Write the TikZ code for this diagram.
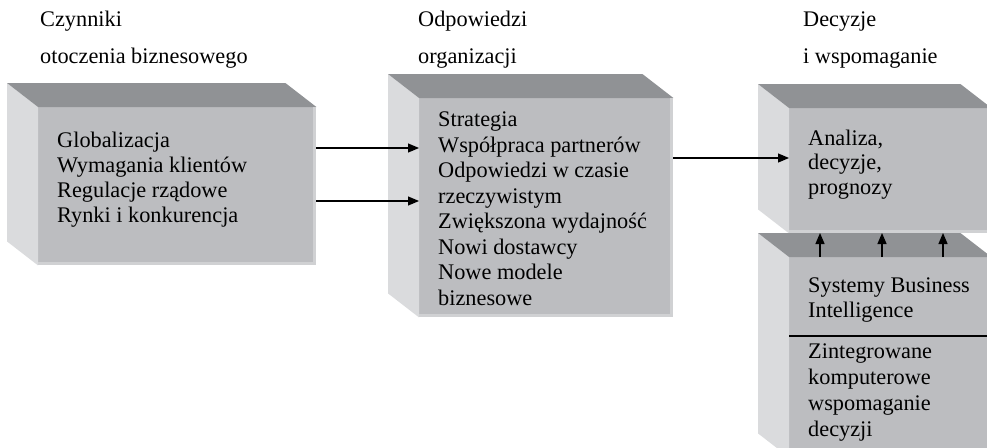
\documentclass[tikz,border=0pt]{standalone}
\usepackage{fontspec}
\setmainfont{Liberation Serif}
\usetikzlibrary{arrows.meta}

\definecolor{frontgray}{RGB}{188,189,192}
\definecolor{topgray}{RGB}{144,146,149}
\definecolor{sidegray}{RGB}{218,219,221}
\definecolor{rimgray}{RGB}{208,209,211}

% side and top faces of a box, behind its front node
\newcommand{\boxfaces}[1]{%
  \fill[sidegray] (#1.south west) -- ++(-31,-24) -- ([shift={(-31,-24)}]#1.north west) -- (#1.north west) -- cycle;
  \fill[topgray] (#1.north west) -- ++(-31,-24) -- ([shift={(-31,-24)}]#1.north east) -- (#1.north east) -- cycle;
  \fill[rimgray] ([xshift=-3pt]#1.north east) rectangle (#1.south east);
  \fill[rimgray] ([yshift=3pt]#1.south west) rectangle (#1.south east);
}

\tikzset{
  front/.style={fill=frontgray, draw=none, inner sep=0pt, anchor=north west},
  txt/.style={anchor=base west, inner sep=0pt, align=left, font=\fontsize{22.3}{25}\selectfont},
  arr/.style={line width=1.2pt, -{Triangle[length=11pt, width=9pt]}}
}

\begin{document}
\begin{tikzpicture}[x=1pt, y=-1pt]
  \useasboundingbox (0,0) rectangle (987,447);
  \clip (0,0) rectangle (987,447);

  % headings
  \node[txt] (h1a) at (40,26) {Czynniki};
  \node[txt] (h1b) at (40,63) {otoczenia biznesowego};
  \node[txt] (h2a) at (418,26) {Odpowiedzi};
  \node[txt] (h2b) at (418,63) {organizacji};
  \node[txt] (h3a) at (803,26) {Decyzje};
  \node[txt] (h3b) at (803,63) {i wspomaganie};

  % First box (texts placed by the base of their last line)
  \node[front, minimum width=278pt, minimum height=158pt] (b1) at (38,107) {};
  \boxfaces{b1}
  \node[txt] (t1) at (57,222) {Globalizacja\\Wymagania klientów\\Regulacje rządowe\\Rynki i konkurencja};

  % Second box
  \node[front, minimum width=254pt, minimum height=219pt] (b2) at (419,98) {};
  \boxfaces{b2}
  \node[txt, font=\fontsize{22.3}{25.5}\selectfont] (t2) at (438,305) {Strategia\\Współpraca partnerów\\Odpowiedzi w czasie\\rzeczywistym\\Zwiększona wydajność\\Nowi dostawcy\\Nowe modele\\biznesowe};

  % Third box
  \node[front, minimum width=202pt, minimum height=125pt] (b3) at (789,108) {};
  \boxfaces{b3}
  \node[txt, font=\fontsize{22.3}{24.5}\selectfont] (t3) at (808,194) {Analiza,\\decyzje,\\prognozy};

  % Fourth box
  \node[front, minimum width=202pt, minimum height=200pt] (b4) at (789,257) {};
  \boxfaces{b4}
  \node[txt] (t4) at (808,317) {Systemy Business\\Intelligence};
  \node[txt, font=\fontsize{22.3}{26}\selectfont] (t5) at (808,436) {Zintegrowane\\komputerowe\\wspomaganie\\decyzji};
  \draw[line width=1.5pt] (b4.west |- 0,336) -- (b4.east |- 0,336);

  % arrows
  \draw[arr] (b1.east |- 0,148) -- (b2.west |- 0,148);
  \draw[arr] (b1.east |- 0,201) -- (b2.west |- 0,201);
  \draw[arr] (b2.east |- 0,158) -- (b3.west |- 0,158);
  \foreach \x in {820,882,943}
    \draw[arr] (b4.north -| \x,0) -- ++(0,-24);
\end{tikzpicture}
\end{document}
